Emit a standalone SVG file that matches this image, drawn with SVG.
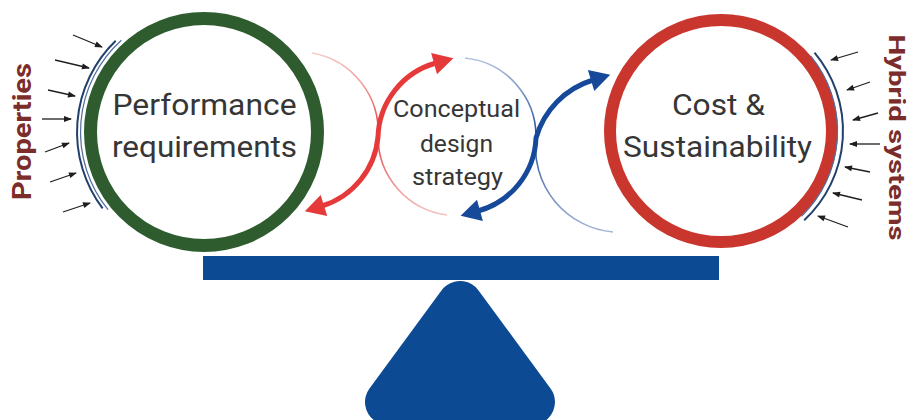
<svg xmlns="http://www.w3.org/2000/svg" width="910" height="420" viewBox="0 0 910 420">
  <defs>
    <style>
      .ring-green { fill: none; stroke: #2f5c2f; stroke-width: 13; }
      .ring-red { fill: none; stroke: #c9362e; stroke-width: 12; }
      .label { font-family: Roboto, "Liberation Sans", sans-serif; fill: #363636; text-anchor: middle; }
      .big { font-size: 30px; }
      .mid { font-size: 24px; }
      .side { font-family: Roboto, "Liberation Sans", sans-serif; font-weight: bold; fill: #7b2d2b; text-anchor: middle; }
      .shell-out { fill: none; stroke: #22406c; stroke-width: 2; }
      .shell-in { fill: none; stroke: #4f6f9f; stroke-width: 1.2; }
      .force { stroke: #1e1e1e; stroke-width: 1.3; fill: none; marker-end: url(#tip); }
      .thick-red { fill: none; stroke: #e63a3a; stroke-width: 5; marker-start: url(#headRed); marker-end: url(#headRed); }
      .thick-blue { fill: none; stroke: #17499a; stroke-width: 5; marker-start: url(#headBlue); marker-end: url(#headBlue); }
      .thin-red { fill: none; stroke: url(#fadeRed); stroke-width: 1.6; }
      .thin-blue { fill: none; stroke: url(#fadeBlue); stroke-width: 1.6; }
      .steel { fill: #0c4a94; }
    </style>
    <marker id="tip" markerUnits="userSpaceOnUse" markerWidth="10" markerHeight="8" viewBox="0 -4 8 8" refX="7" refY="0" orient="auto">
      <path d="M0,-3 L8,0 L0,3 z" fill="#1e1e1e"/>
    </marker>
    <marker id="headRed" markerUnits="userSpaceOnUse" markerWidth="24" markerHeight="24" viewBox="-2 -12 24 24" refX="2" refY="0" orient="auto-start-reverse">
      <path d="M0,-11 L20,0 L0,11 z" fill="#e63a3a"/>
    </marker>
    <marker id="headBlue" markerUnits="userSpaceOnUse" markerWidth="24" markerHeight="24" viewBox="-2 -12 24 24" refX="2" refY="0" orient="auto-start-reverse">
      <path d="M0,-11 L20,0 L0,11 z" fill="#17499a"/>
    </marker>
    <linearGradient id="fadeRed" gradientUnits="userSpaceOnUse" x1="0" y1="50" x2="0" y2="218">
      <stop offset="0" stop-color="#e65a5a" stop-opacity="0.3"/>
      <stop offset="0.5" stop-color="#e23a3a" stop-opacity="1"/>
      <stop offset="1" stop-color="#e65a5a" stop-opacity="0.35"/>
    </linearGradient>
    <linearGradient id="fadeBlue" gradientUnits="userSpaceOnUse" x1="0" y1="55" x2="0" y2="235">
      <stop offset="0" stop-color="#3a60a8" stop-opacity="0.35"/>
      <stop offset="0.45" stop-color="#1d4d9c" stop-opacity="1"/>
      <stop offset="1" stop-color="#3a60a8" stop-opacity="0.45"/>
    </linearGradient>
  </defs>

  <rect width="910" height="420" fill="#ffffff"/>

  <!-- balance: beam and fulcrum -->
  <g id="balance">
    <rect class="steel" x="203" y="256" width="516" height="24"/>
    <polygon points="460,304 388,402 532,402" fill="#0c4a94" stroke="#0c4a94" stroke-width="46" stroke-linejoin="round"/>
  </g>

  <!-- left pan: performance requirements -->
  <g id="node-performance">
    <circle class="ring-green" cx="204" cy="132" r="113.5"/>
    <text class="label big" x="204.5" y="115" textLength="184" lengthAdjust="spacingAndGlyphs">Performance</text>
    <text class="label big" x="204.5" y="157" textLength="185" lengthAdjust="spacingAndGlyphs">requirements</text>
  </g>

  <!-- right pan: cost & sustainability -->
  <g id="node-cost">
    <circle class="ring-red" cx="721" cy="131" r="111"/>
    <text class="label big" x="718.5" y="115" textLength="93" lengthAdjust="spacingAndGlyphs">Cost &amp;</text>
    <text class="label big" x="717.5" y="157" textLength="189" lengthAdjust="spacingAndGlyphs">Sustainability</text>
  </g>

  <!-- centre: conceptual design strategy -->
  <g id="node-concept">
    <text class="label mid" x="456.5" y="117" textLength="127" lengthAdjust="spacingAndGlyphs">Conceptual</text>
    <text class="label mid" x="456.5" y="152" textLength="73" lengthAdjust="spacingAndGlyphs">design</text>
    <text class="label mid" x="457.5" y="185" textLength="91" lengthAdjust="spacingAndGlyphs">strategy</text>
  </g>

  <!-- shells and incoming arrows on each side -->
  <g id="node-properties">
    <path class="shell-out" d="M115.7,40.7 A127,127 0 0,0 102.6,208.4"/>
    <path class="shell-in" d="M121.4,40.2 A123.5,123.5 0 0,0 108,209.7"/>
    <line class="force" x1="73" y1="35" x2="102" y2="47"/>
    <line class="force" x1="55" y1="60" x2="89" y2="68"/>
    <line class="force" x1="48" y1="90" x2="75" y2="96"/>
    <line class="force" x1="42" y1="119" x2="71" y2="119"/>
    <line class="force" x1="45" y1="152" x2="69" y2="143"/>
    <line class="force" x1="50" y1="182" x2="76" y2="173"/>
    <line class="force" x1="63" y1="212" x2="90" y2="203"/>
    <text class="side" font-size="26" transform="translate(31,131.5) rotate(-90)" textLength="137" lengthAdjust="spacingAndGlyphs">Properties</text>
  </g>

  <g id="node-hybrid">
    <path class="shell-out" d="M814.5,52.6 A122,122 0 0,1 804.2,220.2"/>
    <path class="shell-in" d="M810.8,56.2 A118.5,118.5 0 0,1 801.5,216.3"/>
    <line class="force" x1="858" y1="52" x2="831" y2="60"/>
    <line class="force" x1="870" y1="82" x2="847" y2="90"/>
    <line class="force" x1="878" y1="113" x2="853" y2="120"/>
    <line class="force" x1="880" y1="144" x2="850" y2="144"/>
    <line class="force" x1="870" y1="172" x2="845" y2="167"/>
    <line class="force" x1="862" y1="200" x2="833" y2="193"/>
    <line class="force" x1="848" y1="227" x2="818" y2="216"/>
    <text class="side" font-size="22" transform="translate(889,137.5) rotate(90)" textLength="206" lengthAdjust="spacingAndGlyphs">Hybrid systems</text>
  </g>

  <!-- exchange loops between the pans and the centre -->
  <g id="connectors">
    <path class="thin-red" d="M312,53 A80,80 0 0,1 378,137 A79,79 0 0,0 447,215"/>
    <path class="thin-blue" d="M465,58 A79,79 0 0,1 536,138 A85,85 0 0,0 613,232"/>
    <path class="thick-red" d="M322,206 A80,80 0 0,0 378,137 A79,79 0 0,1 436,63"/>
    <path class="thick-blue" d="M478,211 A79,79 0 0,0 536,138 A85,85 0 0,1 593,80"/>
  </g>
</svg>
